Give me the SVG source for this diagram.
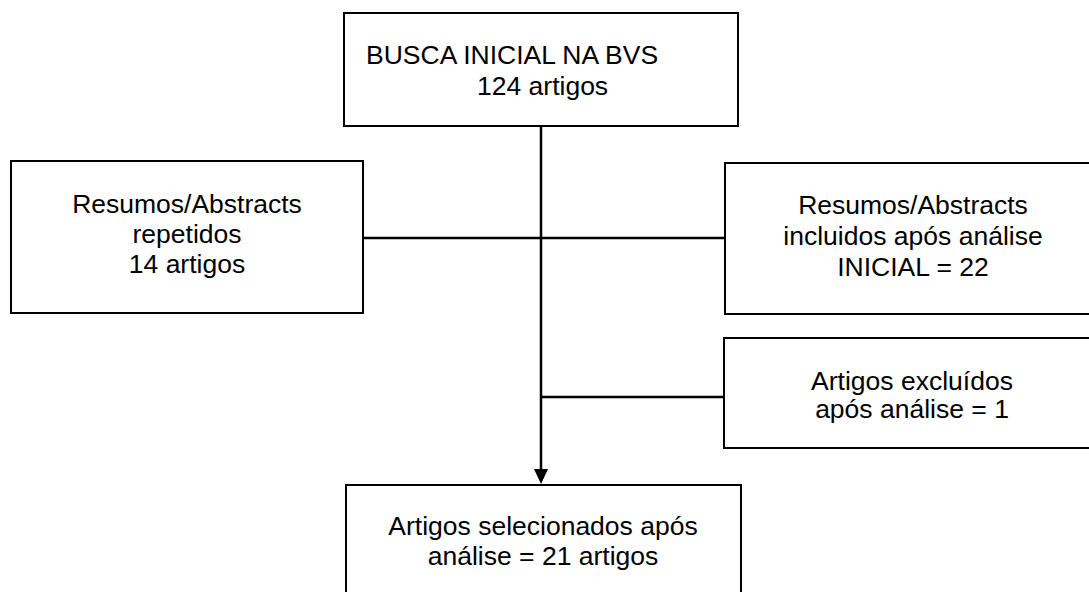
<svg xmlns="http://www.w3.org/2000/svg" width="1089" height="592" viewBox="0 0 1089 592">
<defs>
<style>
.box{fill:#fff;stroke:#000;stroke-width:2}
.t{font-family:"Liberation Sans",Arial,sans-serif;font-size:26.5px;fill:#000}
.c{text-anchor:middle}
.ln{stroke:#000;stroke-width:2.5;fill:none}
</style>
</defs>
<rect width="1089" height="592" fill="#fff"/>
<g id="connectors">
<line class="ln" x1="541" y1="126" x2="541" y2="469"/>
<path d="M534,469 L548,469 L541,484 Z" fill="#000"/>
<line class="ln" x1="363" y1="238" x2="725" y2="238"/>
<line class="ln" x1="541" y1="397" x2="724" y2="397"/>
</g>
<g id="busca">
<rect class="box" x="344" y="13" width="394" height="113"/>
<text class="t" x="366" y="64">BUSCA INICIAL NA BVS</text>
<text class="t" x="477" y="95">124 artigos</text>
</g>
<g id="repetidos">
<rect class="box" x="11" y="161" width="352" height="152"/>
<text class="t c" x="187" y="213">Resumos/Abstracts</text>
<text class="t c" x="187" y="243">repetidos</text>
<text class="t c" x="187" y="273">14 artigos</text>
</g>
<g id="incluidos">
<rect class="box" x="725" y="163" width="374" height="151"/>
<text class="t c" x="913" y="214">Resumos/Abstracts</text>
<text class="t c" x="913" y="245">incluidos após análise</text>
<text class="t c" x="913" y="276">INICIAL = 22</text>
</g>
<g id="excluidos">
<rect class="box" x="724" y="338" width="375" height="110"/>
<text class="t c" x="912" y="390">Artigos excluídos</text>
<text class="t c" x="912" y="418">após análise = 1</text>
</g>
<g id="selecionados">
<rect class="box" x="346" y="485" width="395" height="120"/>
<text class="t c" x="543" y="535">Artigos selecionados após</text>
<text class="t c" x="543" y="565">análise = 21 artigos</text>
</g>
</svg>
